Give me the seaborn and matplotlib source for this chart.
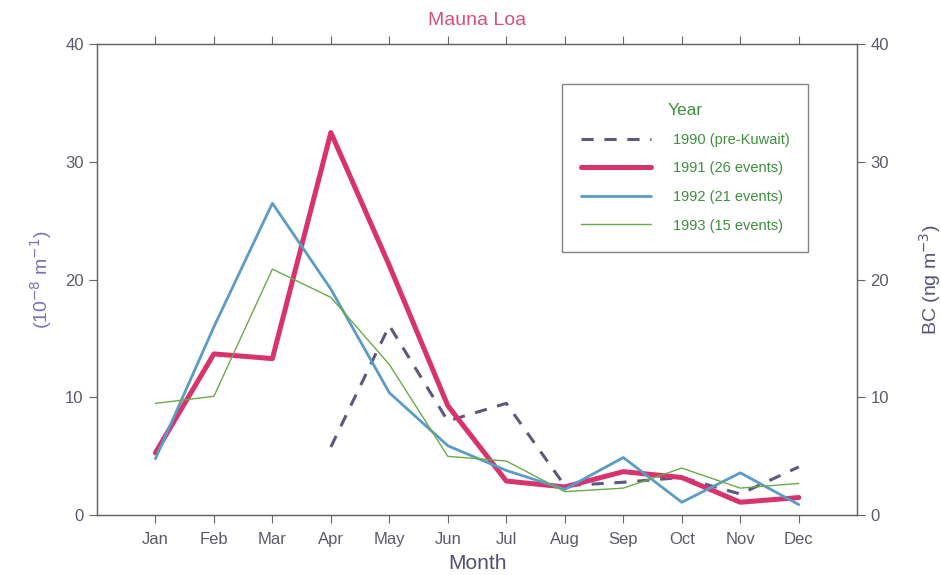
import numpy as np
import pandas as pd
import matplotlib
matplotlib.use("Agg")
import matplotlib.pyplot as plt
import seaborn as sns

# --- dados ---
meses = ["Jan", "Feb", "Mar", "Apr", "May", "Jun", "Jul", "Aug", "Sep", "Oct", "Nov", "Dec"]
ano_1990 = [np.nan, np.nan, np.nan, 5.8, 16.1, 8.0, 9.5, 2.5, 2.8, 3.2, 1.8, 4.1]
ano_1991 = [5.3, 13.7, 13.3, 32.5, 21.2, 9.3, 2.9, 2.4, 3.7, 3.2, 1.1, 1.5]
ano_1992 = [4.8, 16.0, 26.5, 19.2, 10.4, 5.9, 3.8, 2.2, 4.9, 1.1, 3.6, 0.9]
ano_1993 = [9.5, 10.1, 20.9, 18.5, 12.8, 5.0, 4.6, 2.0, 2.3, 4.0, 2.3, 2.7]
rotulos = ["1990 (pre-Kuwait)", "1991 (26 events)", "1992 (21 events)", "1993 (15 events)"]

sns.set_style("ticks")
plt.rcParams['font.family'] = ['Liberation Sans', 'DejaVu Sans']

fig = plt.figure(figsize=(9.41, 5.75), dpi=100)
ax = fig.add_axes([0.103, 0.104, 0.808, 0.819])

x = np.arange(1, 13)
estilos = [
    (ano_1990, "#5c5a7c", 2.2, (0, (4, 3.5))),
    (ano_1991, "#d8336c", 3.6, "-"),
    (ano_1992, "#5a9cc6", 2.0, "-"),
    (ano_1993, "#6aaa4a", 1.0, "-"),
]
for (vals, cor, lw, ls), rot in zip(estilos, rotulos):
    df = pd.DataFrame({"mes": x, "valor": vals})
    sns.lineplot(data=df, x="mes", y="valor", ax=ax, color=cor, linewidth=lw,
                 linestyle=ls, label=rot)

ax.set_xlim(0, 13)
ax.set_ylim(0, 40)
ax.set_xticks(x)
ax.set_xticklabels(meses)
ax.set_yticks([0, 10, 20, 30, 40])
ax.tick_params(axis="both", direction="out", length=6, width=0.8,
               colors="#666666", labelsize=12, labelcolor="#5a5a6a")
ax.tick_params(axis="x", top=True, pad=6)
for s in ax.spines.values():
    s.set_color("#666666")
    s.set_linewidth(1.0)

ax.set_xlabel("Month", fontsize=15, color="#50506e", labelpad=5)
ax.set_ylabel("(10$^{-8}$ m$^{-1}$)", fontsize=14, color="#7a72b8", labelpad=8)
ax.set_title("Mauna Loa", fontsize=14, color="#d6507c", pad=14)

ax2 = ax.twinx()
ax2.set_ylim(0, 40)
ax2.set_yticks([0, 10, 20, 30, 40])
ax2.tick_params(axis="y", direction="out", length=6, width=0.8,
                colors="#666666", labelsize=12, labelcolor="#5a5a6a")
ax2.set_ylabel("BC (ng m$^{-3}$)", fontsize=14, color="#55557a", labelpad=20)
sns.despine(ax=ax2, top=False, right=False)
for s in ax2.spines.values():
    s.set_color("#666666")

leg = ax.legend(title="Year", loc="upper right", bbox_to_anchor=(0.9355, 0.915),
                frameon=True, fancybox=False, fontsize=10.5, title_fontsize=12.5,
                handlelength=4.8, handletextpad=1.5, labelspacing=1.0,
                borderpad=1.3, borderaxespad=0.0, labelcolor="#3f8f3f")
leg.get_title().set_color("#3f8f3f")
leg.get_frame().set_edgecolor("#666666")
leg.get_frame().set_linewidth(1.0)

fig.savefig("out.png", dpi=100)
